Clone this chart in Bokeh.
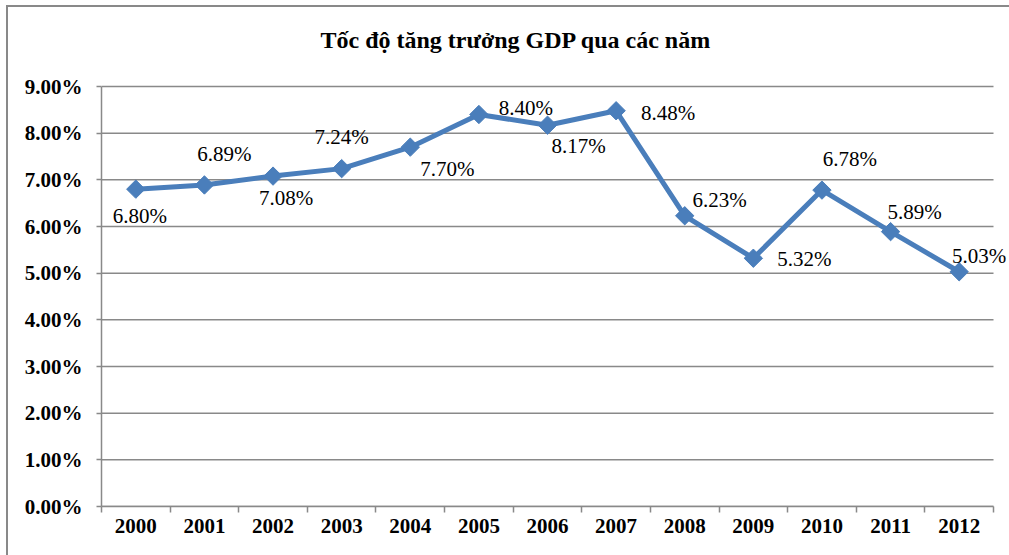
import math
from bokeh.plotting import figure
from bokeh.models import ColumnDataSource, LabelSet, Range1d, FixedTicker, PrintfTickFormatter
from bokeh.core.properties import value
from bokeh.embed import file_html
from bokeh.resources import INLINE

# ---- data ----
years = ["2000", "2001", "2002", "2003", "2004", "2005", "2006",
         "2007", "2008", "2009", "2010", "2011", "2012"]
growth = [6.80, 6.89, 7.08, 7.24, 7.70, 8.40, 8.17, 8.48, 6.23, 5.32, 6.78, 5.89, 5.03]
y_ticks = [0, 1, 2, 3, 4, 5, 6, 7, 8, 9]
title_text = "Tốc độ tăng trưởng GDP qua các năm"

# label placement offsets (screen px) – style, not data
label_dx = [4, 20, 13, 0, 37, 47, 31, 52, 35, 51, 28, 24, 20]
label_dy = [-27, 31, -22, 32, -22, 7, -21, -2, 16, -1, 31, 20, 16]

FONT = "Liberation Serif"
BLUE = "#4A7EBB"
GRAY = "#898989"

n = len(years)
y_max = y_ticks[-1]
xpos = [i + 0.5 for i in range(n)]
src = ColumnDataSource(dict(
    x=xpos, y=growth,
    text=[f"{g:.2f}%" for g in growth],
    dx=label_dx, dy=label_dy,
))
grid_src = ColumnDataSource(dict(x0=[0] * len(y_ticks), x1=[n] * len(y_ticks),
                                 y=y_ticks))

# plot area: 101..993 px wide and 86..506 px tall holds the data; the frame
# runs a bit further right/up so labels are not clipped and the title sits well
x_end = n * (1009 - 101) / (993 - 101)
y_end = y_max * (506 - 76) / (506 - 86)

p = figure(width=1009, height=555, output_backend="svg", toolbar_location=None,
           x_range=Range1d(0, x_end), y_range=Range1d(0, y_end),
           min_border_left=101, min_border_right=0, min_border_top=76, min_border_bottom=49,
           title=title_text)
p.styles = {
    "background": (f"linear-gradient({GRAY},{GRAY}) 6px 5px / 2px 100% no-repeat, "
                   f"linear-gradient({GRAY},{GRAY}) 6px 5px / 100% 2px no-repeat, white"),
}
p.outline_line_color = None
p.background_fill_color = "white"
p.border_fill_color = None

p.title.align = "left"
p.title.offset = 219
p.title.text_font = FONT
p.title.text_font_size = "24px"
p.title.text_font_style = "bold"
p.title.text_color = "black"
p.title.standoff = 48

# x axis
p.xaxis.bounds = (0, n)
p.xaxis.ticker = FixedTicker(ticks=xpos, minor_ticks=list(range(n + 1)))
p.xaxis.major_label_overrides = {xv: yr for xv, yr in zip(xpos, years)}
p.xaxis.major_tick_line_color = None
p.xaxis.minor_tick_line_color = GRAY
p.xaxis.minor_tick_line_width = 1.5
p.xaxis.minor_tick_in = 0
p.xaxis.minor_tick_out = 6
p.xaxis.major_label_standoff = 6

# y axis
p.yaxis.bounds = (0, y_max)
p.yaxis.ticker = FixedTicker(ticks=y_ticks)
p.yaxis.formatter = PrintfTickFormatter(format="%.2f%%")
p.yaxis.major_tick_line_color = GRAY
p.yaxis.major_tick_line_width = 1.5
p.yaxis.major_tick_in = 0
p.yaxis.major_tick_out = 5
p.yaxis.minor_tick_line_color = None
p.yaxis.major_label_standoff = 14

for ax in (p.xaxis, p.yaxis):
    ax.axis_line_color = GRAY
    ax.axis_line_width = 1.5
    ax.major_label_text_font = FONT
    ax.major_label_text_font_size = "21px"
    ax.major_label_text_font_style = "bold"
    ax.major_label_text_color = "black"

p.xgrid.visible = False
p.ygrid.visible = False
p.segment(x0="x0", x1="x1", y0="y", y1="y", source=grid_src,
          line_color=GRAY, line_width=1.5)

p.line("x", "y", source=src, line_color=BLUE, line_width=5)
p.scatter("x", "y", source=src, marker="square", angle=math.pi / 4, size=13,
          fill_color=BLUE, line_color=BLUE)

labels = LabelSet(x="x", y="y", text="text", source=src, x_offset="dx", y_offset="dy",
                  text_align="center", text_baseline="middle",
                  text_font=value(FONT), text_font_size="21px", text_color="black")
p.add_layout(labels)

open("out.html", "w").write(file_html(p, INLINE))
